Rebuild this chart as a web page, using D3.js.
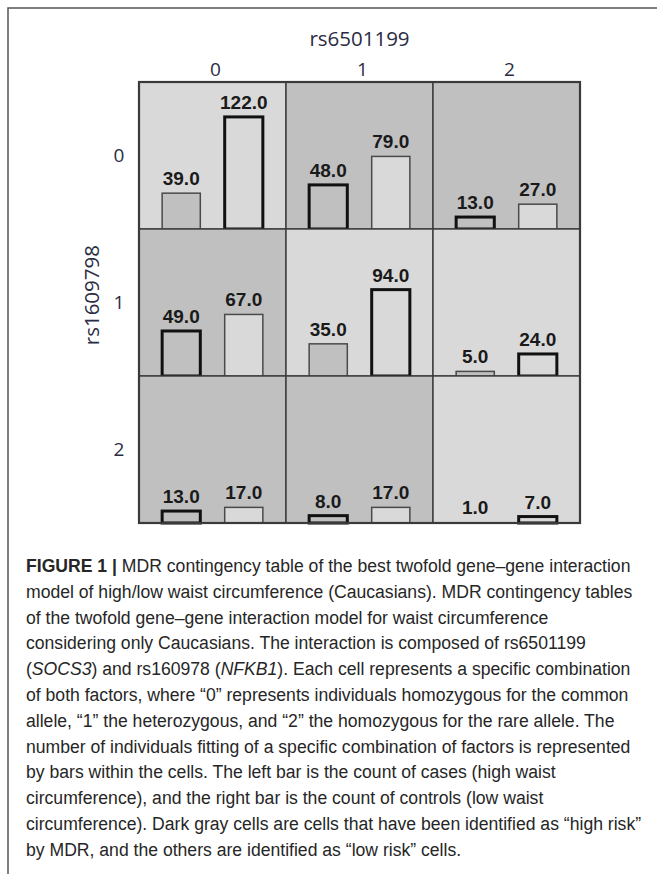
<!DOCTYPE html>
<html>
<head>
<meta charset="utf-8">
<script src="https://cdn.jsdelivr.net/npm/d3@7/dist/d3.min.js"></script>
<style>
  html, body { margin: 0; padding: 0; background: #fff; }
  svg { display: block; }
</style>
</head>
<body>
<svg id="fig" width="657" height="874"></svg>
<script>
// Genotype levels of the two SNPs
const colLevels = ["0", "1", "2"];   // rs6501199
const rowLevels = ["0", "1", "2"];   // rs1609798
const colFactor = "rs6501199";
const rowFactor = "rs1609798";

// Counts per cell [row][col]: cases (left bar) and controls (right bar)
const cases    = [[39, 48, 13], [49, 35, 5], [13, 8, 1]];
const controls = [[122, 79, 27], [67, 94, 24], [17, 17, 7]];
// MDR classification: 1 = high risk (dark cell), 0 = low risk
const highRisk = [[0, 1, 1], [1, 0, 0], [1, 1, 0]];

const captionLines = [
  [["FIGURE 1 | ", "b"], ["MDR contingency table of the best twofold gene–gene interaction", ""]],
  [["model of high/low waist circumference (Caucasians). MDR contingency tables", ""]],
  [["of the twofold gene–gene interaction model for waist circumference", ""]],
  [["considering only Caucasians. The interaction is composed of rs6501199", ""]],
  [["(", ""], ["SOCS3", "i"], [") and rs160978 (", ""], ["NFKB1", "i"], ["). Each cell represents a specific combination", ""]],
  [["of both factors, where “0” represents individuals homozygous for the common", ""]],
  [["allele, “1” the heterozygous, and “2” the homozygous for the rare allele. The", ""]],
  [["number of individuals fitting of a specific combination of factors is represented", ""]],
  [["by bars within the cells. The left bar is the count of cases (high waist", ""]],
  [["circumference), and the right bar is the count of controls (low waist", ""]],
  [["circumference). Dark gray cells are cells that have been identified as “high risk”", ""]],
  [["by MDR, and the others are identified as “low risk” cells.", ""]]
];

const svg = d3.select("#fig");

// Frame around the figure panel
svg.append("path")
  .attr("d", "M8,874 V8 H657")
  .attr("fill", "none").attr("stroke", "#555").attr("stroke-width", 1.5);

// Grid geometry
const gx = 139, gy = 82, cell = 147;
const x = d3.scaleBand().domain(colLevels).range([gx, gx + 3 * cell]);
const y = d3.scaleBand().domain(rowLevels).range([gy, gy + 3 * cell]);
const h = d3.scaleLinear().domain([0, 160]).range([0, cell]);
const barSlot = d3.scaleBand().domain(["case", "control"]).range([0, cell]).paddingInner(0.39).paddingOuter(0.37);

const cells = [];
rowLevels.forEach((r, i) => colLevels.forEach((c, j) => cells.push({
  r, c, risk: highRisk[i][j], vals: [["case", cases[i][j]], ["control", controls[i][j]]]
})));

const LIGHT = "#d9d9d9", DARK = "#c0c0c0";

const g = svg.append("g");
const cg = g.selectAll("g.cell").data(cells).join("g")
  .attr("class", "cell")
  .attr("transform", d => `translate(${x(d.c)},${y(d.r)})`);

cg.append("rect")
  .attr("width", cell).attr("height", cell)
  .attr("fill", d => d.risk ? DARK : LIGHT)
  .attr("stroke", "#3a3a3a").attr("stroke-width", 1.4);

cg.each(function(d) {
  const sel = d3.select(this);
  d.vals.forEach(([k, v]) => {
    const bh = h(v);
    const bx = barSlot(k), bw = barSlot.bandwidth();
    // thick outline marks the class assigned to the cell
    const emph = (k === "case") === (d.risk === 1);
    if (v > 1) {
      sel.append("rect")
        .attr("x", bx).attr("y", cell - bh)
        .attr("width", bw).attr("height", bh)
        .attr("fill", k === "case" ? DARK : LIGHT)
        .attr("stroke", emph ? "#111" : "#4a4a4a")
        .attr("stroke-width", emph ? 3 : 1.5);
    }
    sel.append("text")
      .attr("x", bx + bw / 2).attr("y", cell - bh - 8)
      .attr("text-anchor", "middle")
      .attr("font-family", "Liberation Sans, Arial, sans-serif")
      .attr("font-weight", "bold").attr("font-size", 19)
      .attr("fill", "#1a1a1a")
      .text(v.toFixed(1));
  });
});

// Outer border of the grid
g.append("rect")
  .attr("x", gx).attr("y", gy).attr("width", 3 * cell).attr("height", 3 * cell)
  .attr("fill", "none").attr("stroke", "#3a3a3a").attr("stroke-width", 2.2);

// Axis labels
const axisFont = "Open Sans, Lato, sans-serif";
const axisColor = "#2a2c44";
svg.append("text").attr("x", x("1") + cell / 2).attr("y", 46)
  .attr("text-anchor", "middle").attr("font-family", axisFont).attr("font-size", 20.5)
  .attr("fill", axisColor).text(colFactor);
svg.selectAll("text.col").data(colLevels).join("text").attr("class", "col")
  .attr("x", d => x(d) + cell / 2 + 3).attr("y", 76)
  .attr("text-anchor", "middle").attr("font-family", axisFont).attr("font-size", 19)
  .attr("fill", axisColor).text(d => d);
svg.selectAll("text.row").data(rowLevels).join("text").attr("class", "row")
  .attr("x", 119).attr("y", d => y(d) + cell / 2 + 6)
  .attr("text-anchor", "middle").attr("font-family", axisFont).attr("font-size", 19)
  .attr("fill", axisColor).text(d => d);
svg.append("text")
  .attr("transform", `translate(99,${gy + 1.45 * cell}) rotate(-90)`)
  .attr("text-anchor", "middle").attr("font-family", axisFont).attr("font-size", 20.5)
  .attr("fill", axisColor).text(rowFactor);

// Caption
const cap = svg.append("g")
  .attr("font-family", "Liberation Sans, Arial, sans-serif")
  .attr("font-size", 17.6).attr("fill", "#262626");
captionLines.forEach((line, i) => {
  const t = cap.append("text").attr("x", 26).attr("y", 572 + i * 25.8);
  line.forEach(([s, st]) => {
    const sp = t.append("tspan").text(s);
    if (st === "b") sp.attr("font-weight", "bold");
    if (st === "i") sp.attr("font-style", "italic");
  });
});
</script>
</body>
</html>
